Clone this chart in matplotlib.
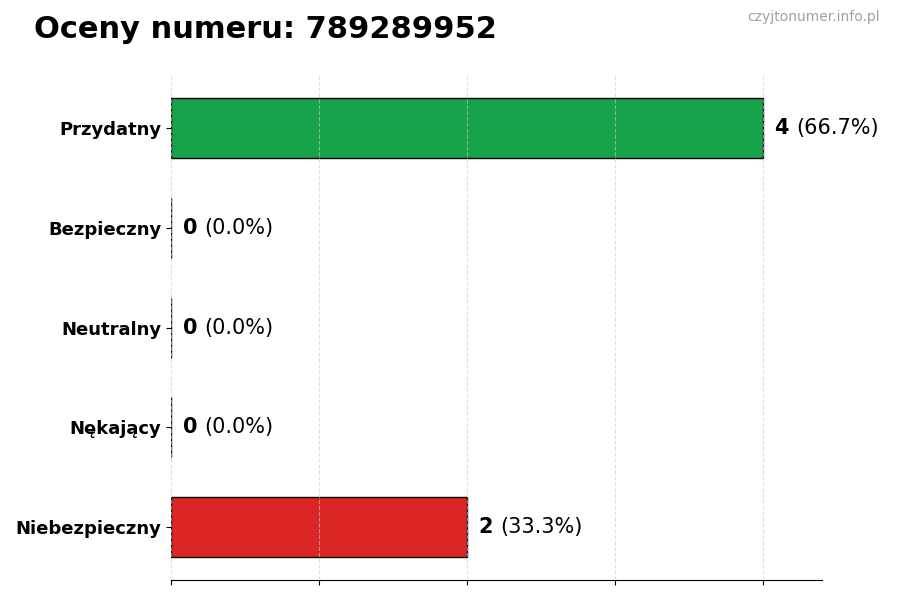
import matplotlib
matplotlib.use("Agg")
import matplotlib.pyplot as plt

categories = ["Przydatny", "Bezpieczny", "Neutralny", "Nękający", "Niebezpieczny"]
counts = [4, 0, 0, 0, 2]
colors = ["#16a34a", "#9ca3af", "#6b7280", "#f59e0b", "#dc2626"]
number = "789289952"

total = sum(counts)
ypos = list(range(len(categories)))[::-1]

fig = plt.figure(figsize=(9, 6), dpi=100)
ax = fig.add_axes([0.19, 0.033, 0.723, 0.842])

ax.barh(ypos, counts, height=0.6, color=colors, edgecolor="black", linewidth=1, zorder=1)
# grid sits faintly over the bars, like in the original
ax.grid(axis="x", linestyle="--", color="#cccccc", linewidth=0.8, alpha=0.6, zorder=2)
ax.set_axisbelow(False)
ax.set_xlim(0, 4.4)
ax.set_xticks(range(0, 5))
ax.set_xticklabels([])
ax.set_yticks(ypos)
ax.set_yticklabels(categories, fontsize=13, fontweight="bold")

for s in ["top", "right", "left"]:
    ax.spines[s].set_visible(False)

for y, c in zip(ypos, counts):
    pct = 100 * c / total
    t = ax.text(c + 0.08, y, str(c), fontsize=15, fontweight="bold", va="center", ha="left")
    ax.annotate(f"({pct:.1f}%)", xy=(1, 0.5), xycoords=t, xytext=(5, 0),
                textcoords="offset points", fontsize=15, va="center", ha="left")

fig.text(0.038, 0.95, f"Oceny numeru: {number}", fontsize=22, fontweight="bold", va="center", ha="left")
fig.text(0.978, 0.972, "czyjtonumer.info.pl", fontsize=10, color="#a0a0a0", va="center", ha="right")

fig.savefig("out.png", dpi=100)
